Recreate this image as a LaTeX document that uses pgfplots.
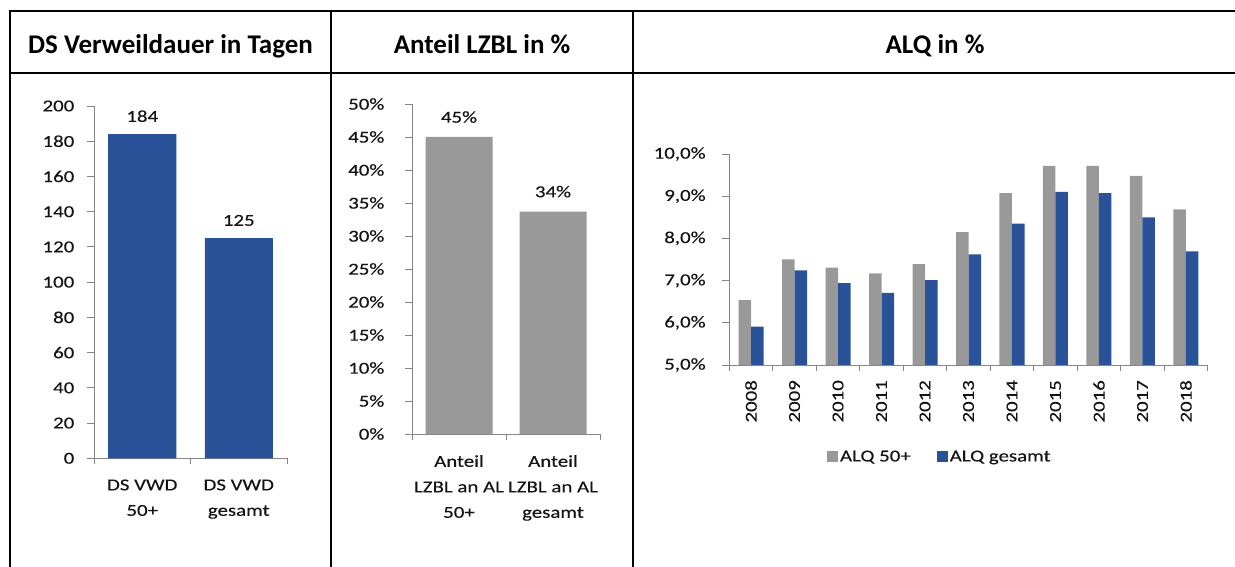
\documentclass[border=0pt]{standalone}
\usepackage{fontspec}
\setmainfont{Carlito}
\newfontfamily\chartfont[FakeStretch=1.25,FakeBold=0.3]{Carlito}
\newfontfamily\headfont{Carlito}
\usepackage{pgfplots}
\pgfplotsset{compat=1.18}
\definecolor{barblue}{RGB}{41,82,152}
\definecolor{bargray}{RGB}{153,153,153}
\definecolor{axgray}{RGB}{134,134,134}
\definecolor{txt}{RGB}{20,20,20}
\newcommand{\tf}{\chartfont\fontsize{16.7}{25.5}\selectfont}
\pgfplotsset{
  ybar legend/.style={legend image code/.code={\fill[##1] (0pt,-5.5pt) rectangle (11pt,5.5pt);}},
  panel/.style={
    scale only axis,
    axis x line*=bottom, axis y line*=left,
    axis line style={draw=axgray, line width=0.9pt},
    tick style={draw=axgray, line width=0.9pt},
    tick align=outside,
    major tick length=7pt,
    minor tick length=6pt,
    major x tick style={draw=none},
    tick label style={font=\tf, text=txt},
    /pgf/number format/assume math mode=true,
    ybar,
  }
}
\begin{document}
\begin{tikzpicture}[x=1pt,y=1pt]
\path[use as bounding box] (0,0) rectangle (1235,567);
% table frame
\draw[line width=2pt] (9,556) -- (1236,556);
\draw[line width=2pt] (9,494.3) -- (1236,494.3);
\draw[line width=2pt] (10,557) -- (10,-2);
\draw[line width=2pt] (331,557) -- (331,-2);
\draw[line width=2pt] (633,557) -- (633,-2);
% headers
\node[anchor=base, inner sep=0pt, font=\headfont\bfseries\fontsize{27}{32}\selectfont] at (170.5,513.7) {DS Verweildauer in Tagen};
\node[anchor=base, inner sep=0pt, font=\headfont\bfseries\fontsize{27}{32}\selectfont] at (482,513.7) {Anteil LZBL in \%};
\node[anchor=base, inner sep=0pt, font=\headfont\bfseries\fontsize{27}{32}\selectfont] at (935,513.7) {ALQ in \%};

% chart 1
\begin{axis}[panel, at={(94pt,108.7pt)}, anchor=south west,
  width=193pt, height=352.3pt,
  xmin=-0.5, xmax=1.5, ymin=0, ymax=200, ytick={0,20,...,200},
  yticklabel style={anchor=east, inner sep=0pt},
  yticklabel shift=12.5pt,
  xtick={0,1}, xticklabels={{DS VWD\\50+},{DS VWD\\gesamt}},
  minor xtick={-0.5,0.5,1.5},
  xticklabel style={align=center, anchor=north, inner sep=0pt, yshift=-14pt},
  bar width=68pt, clip=false,
  nodes near coords,
  every node near coord/.append style={font=\tf, text=txt, anchor=south, inner sep=0pt, yshift=12pt},
  ]
\addplot[fill=barblue, draw=none] coordinates {(0,184) (1,125)};
\end{axis}

% chart 2
\begin{axis}[panel, at={(412pt,133pt)}, anchor=south west,
  width=188pt, height=330pt,
  xmin=-0.5, xmax=1.5, ymin=0, ymax=50, ytick={0,5,...,50},
  yticklabel={\pgfmathprintnumber{\tick}\%},
  yticklabel style={anchor=east, inner sep=0pt},
  yticklabel shift=20.5pt,
  xtick={0,1}, xticklabels={{Anteil\\LZBL an AL\\50+},{Anteil\\LZBL an AL\\gesamt}},
  minor xtick={-0.5,0.5,1.5},
  xticklabel style={align=center, anchor=north, inner sep=0pt, yshift=-14pt},
  bar width=67pt, clip=false,
  nodes near coords={\pgfmathprintnumber[fixed,precision=0]{\pgfplotspointmeta}\%},
  every node near coord/.append style={font=\tf, text=txt, anchor=south, inner sep=0pt, yshift=14pt},
  ]
\addplot[fill=bargray, draw=none] coordinates {(0,45.0) (1,33.7)};
\end{axis}

% chart 3
\begin{axis}[panel, at={(729.3pt,202pt)}, anchor=south west,
  width=478.4pt, height=211pt,
  xmin=-0.5, xmax=10.5, ymin=5, ymax=10, ytick={5,6,...,10},
  yticklabel={\pgfmathprintnumber[fixed,fixed zerofill,precision=1,use comma]{\tick}\%},
  yticklabel style={anchor=east, inner sep=0pt},
  yticklabel shift=16.5pt,
  xtick={0,...,10}, xticklabels={2008,2009,2010,2011,2012,2013,2014,2015,2016,2017,2018},
  minor xtick={-0.5,0.5,...,10.5},
  xticklabel style={rotate=90, anchor=east, inner sep=0pt},
  xticklabel shift=8pt,
  ybar=0pt, bar width=12.5pt,
  legend columns=2,
  legend style={at={(0.44,-0.435)}, anchor=center, draw=none, fill=none, font=\tf, text=txt,
    /tikz/every even column/.append style={column sep=24pt}},
  ]
\addplot[fill=bargray, draw=none] coordinates {(0,6.54) (1,7.50) (2,7.31) (3,7.17) (4,7.39) (5,8.15) (6,9.07) (7,9.72) (8,9.72) (9,9.48) (10,8.69)};
\addplot[fill=barblue, draw=none] coordinates {(0,5.91) (1,7.24) (2,6.94) (3,6.71) (4,7.01) (5,7.62) (6,8.35) (7,9.10) (8,9.07) (9,8.50) (10,7.69)};
\legend{ALQ 50+, ALQ gesamt}
\end{axis}
\end{tikzpicture}
\end{document}
